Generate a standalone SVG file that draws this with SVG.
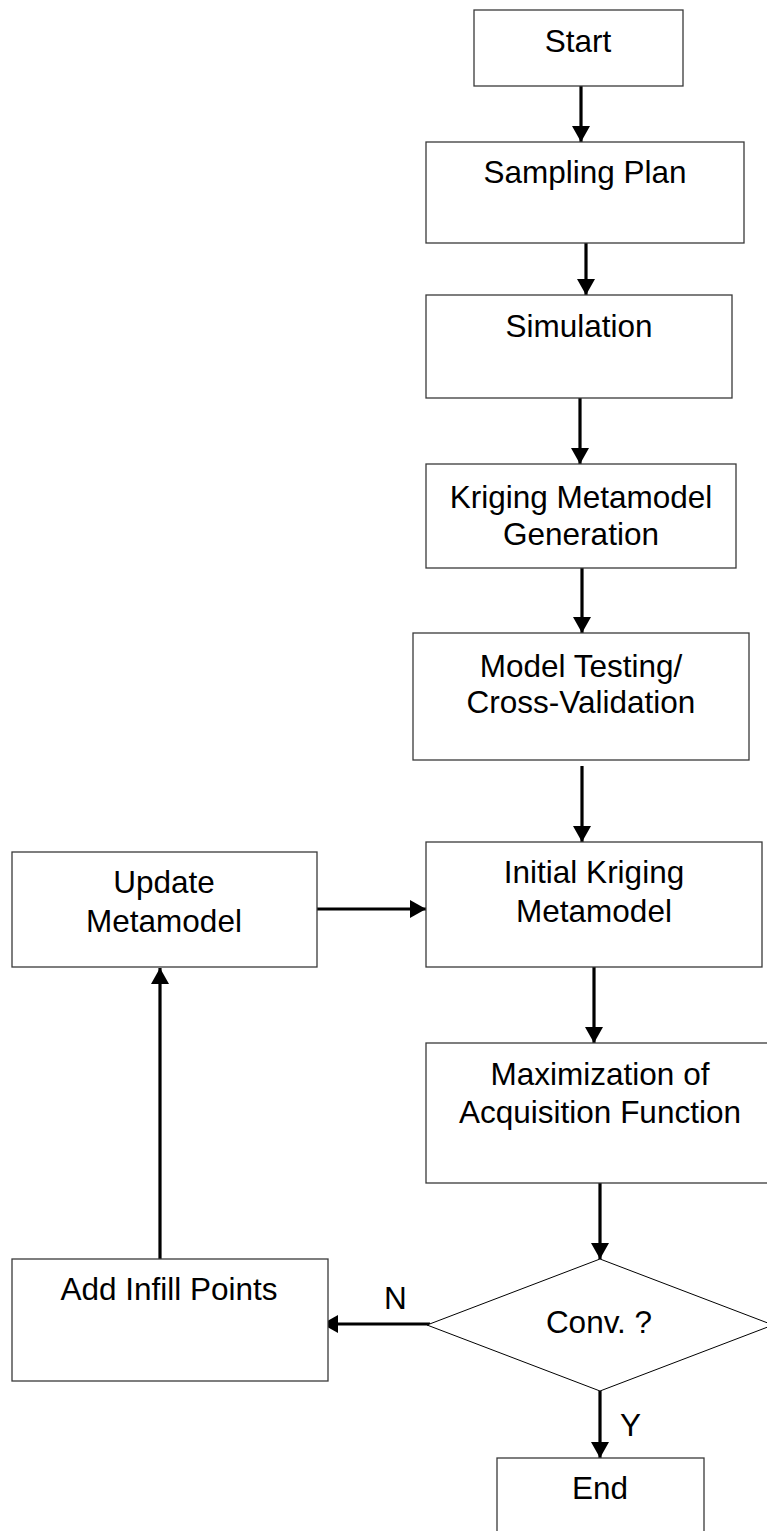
<svg xmlns="http://www.w3.org/2000/svg" width="767" height="1531" viewBox="0 0 767 1531">
  <style>
    .box { fill: #ffffff; stroke: #3a3a3a; stroke-width: 1.3; }
    .dec { fill: #ffffff; stroke: #000000; stroke-width: 1; }
    .lbl { font-family: "Liberation Sans", Arial, sans-serif; font-size: 31.5px; fill: #000000; text-anchor: middle; }
    .tag { font-family: "Liberation Sans", Arial, sans-serif; font-size: 31.5px; fill: #000000; }
    .flow { fill: none; stroke: #000000; stroke-width: 3.2; marker-end: url(#head); }
  </style>
  <defs>
    <marker id="head" markerUnits="userSpaceOnUse" markerWidth="18" markerHeight="18" viewBox="0 0 16 18" refX="16" refY="9" orient="auto">
      <path d="M0,0 L16,9 L0,18 Z" fill="#000000"/>
    </marker>
  </defs>
  <rect width="767" height="1531" fill="#ffffff"/>

  <g id="connectors">
    <line class="flow" x1="581" y1="86" x2="581" y2="142"/>
    <line class="flow" x1="586" y1="243" x2="586" y2="295"/>
    <line class="flow" x1="580" y1="398" x2="580" y2="464"/>
    <line class="flow" x1="582" y1="568" x2="582" y2="633"/>
    <line class="flow" x1="582" y1="766" x2="582" y2="842"/>
    <line class="flow" x1="594" y1="967" x2="594" y2="1043"/>
    <line class="flow" x1="600" y1="1183" x2="600" y2="1259"/>
    <line class="flow" x1="600" y1="1391" x2="600" y2="1458"/>
    <line class="flow" x1="430" y1="1324" x2="322" y2="1324"/>
    <line class="flow" x1="160" y1="1259" x2="160" y2="968"/>
    <line class="flow" x1="317" y1="909" x2="426" y2="909"/>
    <text class="tag" x="384" y="1309">N</text>
    <text class="tag" x="620" y="1436">Y</text>
  </g>

  <g id="start">
    <rect class="box" x="474" y="10" width="209" height="76"/>
    <text class="lbl" x="578" y="52">Start</text>
  </g>
  <g id="sampling-plan">
    <rect class="box" x="426" y="142" width="318" height="101"/>
    <text class="lbl" x="585" y="183">Sampling Plan</text>
  </g>
  <g id="simulation">
    <rect class="box" x="426" y="295" width="306" height="103"/>
    <text class="lbl" x="579" y="337">Simulation</text>
  </g>
  <g id="kriging-generation">
    <rect class="box" x="426" y="464" width="310" height="104"/>
    <text class="lbl" x="581" y="508">Kriging Metamodel</text>
    <text class="lbl" x="581" y="545">Generation</text>
  </g>
  <g id="model-testing">
    <rect class="box" x="413" y="633" width="336" height="127"/>
    <text class="lbl" x="581" y="677">Model Testing/</text>
    <text class="lbl" x="581" y="713">Cross-Validation</text>
  </g>
  <g id="initial-kriging">
    <rect class="box" x="426" y="842" width="336" height="125"/>
    <text class="lbl" x="594" y="883">Initial Kriging</text>
    <text class="lbl" x="594" y="922">Metamodel</text>
  </g>
  <g id="update-metamodel">
    <rect class="box" x="12" y="852" width="305" height="115"/>
    <text class="lbl" x="164" y="893">Update</text>
    <text class="lbl" x="164" y="932">Metamodel</text>
  </g>
  <g id="maximization">
    <rect class="box" x="426" y="1043" width="348" height="140"/>
    <text class="lbl" x="600" y="1085">Maximization of</text>
    <text class="lbl" x="600" y="1123">Acquisition Function</text>
  </g>
  <g id="convergence">
    <polygon class="dec" points="600,1259 773,1325 600,1391 427,1325"/>
    <text class="lbl" x="599" y="1333">Conv. ?</text>
  </g>
  <g id="add-infill">
    <rect class="box" x="12" y="1259" width="316" height="122"/>
    <text class="lbl" x="169" y="1300">Add Infill Points</text>
  </g>
  <g id="end">
    <rect class="box" x="497" y="1458" width="207" height="90"/>
    <text class="lbl" x="600" y="1499">End</text>
  </g>
</svg>
